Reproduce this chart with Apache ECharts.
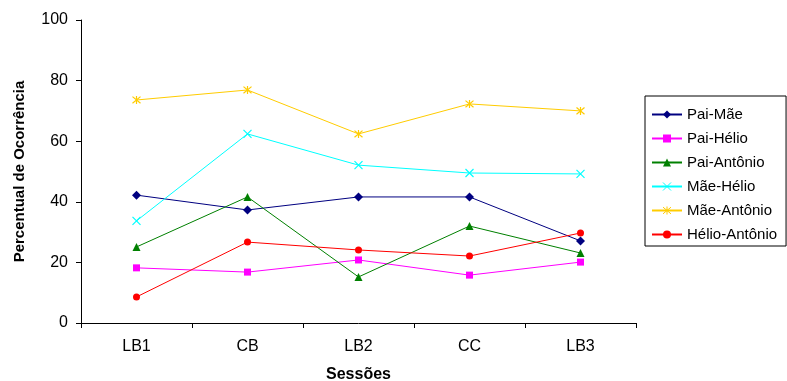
<!DOCTYPE html>
<html>
<head>
<meta charset="utf-8">
<script src="https://cdn.jsdelivr.net/npm/echarts@6/dist/echarts.min.js"></script>
<style>
html,body{margin:0;padding:0;background:#fff;}
#chart{width:787px;height:381px;}
</style>
</head>
<body>
<div id="chart"></div>
<script>
// Sessions and occurrence percentages per pair
const sessions = ['LB1', 'CB', 'LB2', 'CC', 'LB3'];
const paiMae = [42.2, 37.3, 41.6, 41.6, 27.1];
const paiHelio = [18.2, 16.8, 20.8, 15.8, 20.1];
const paiAntonio = [25.1, 41.6, 15.2, 32.0, 23.1];
const maeHelio = [33.7, 62.4, 52.1, 49.5, 49.2];
const maeAntonio = [73.6, 76.9, 62.4, 72.3, 70.0];
const helioAntonio = [8.6, 26.7, 24.1, 22.1, 29.7];
const yTicks = [0, 20, 40, 60, 80, 100];

const FONT = 'Liberation Sans, Arial, sans-serif';
const crossPath = 'path://M0,0L10,10M10,0L0,10';
const starPath = 'path://M0,0L10,10M10,0L0,10M5,-1L5,11';

function makeSeries(name, data, color, symbol, size, stroked) {
  const s = {
    name: name,
    type: 'line',
    data: data,
    symbol: symbol,
    symbolSize: size,
    showAllSymbol: true,
    lineStyle: { color: color, width: 1 },
    itemStyle: { color: color },
    emphasis: { disabled: true },
    animation: false
  };
  if (stroked) {
    s.itemStyle = { color: color, borderColor: color, borderWidth: 1.2 };
  }
  return s;
}

const legendItems = [
  { name: 'Pai-Mãe' },
  { name: 'Pai-Hélio' },
  { name: 'Pai-Antônio' },
  { name: 'Mãe-Hélio', itemStyle: { borderColor: '#00FFFF', borderWidth: 1 } },
  { name: 'Mãe-Antônio', itemStyle: { borderColor: '#FFCC00', borderWidth: 1 } },
  { name: 'Hélio-Antônio' }
];

const chart = echarts.init(document.getElementById('chart'), null, { renderer: 'canvas' });
chart.setOption({
  backgroundColor: '#fff',
  animation: false,
  grid: { left: 81, right: 151, top: 20, bottom: 58, containLabel: false, outerBoundsMode: 'none' },
  legend: {
    orient: 'vertical',
    left: 645,
    top: 96,
    itemWidth: 30,
    itemHeight: 10,
    itemGap: 9,
    padding: [11, 9, 4, 6],
    borderColor: '#000',
    borderWidth: 1,
    textStyle: { fontFamily: FONT, fontSize: 15, color: '#000' },
    data: legendItems
  },
  xAxis: {
    type: 'category',
    data: sessions,
    boundaryGap: true,
    name: 'Sessões',
    nameLocation: 'middle',
    nameGap: 44,
    nameTextStyle: { fontFamily: FONT, fontSize: 16, fontWeight: 'bold', color: '#000' },
    axisLine: { lineStyle: { color: '#000', width: 1 } },
    axisTick: { show: true, length: 5, lineStyle: { color: '#000' } },
    axisLabel: { fontFamily: FONT, fontSize: 16, color: '#000', margin: 16 },
    splitLine: { show: false }
  },
  yAxis: {
    type: 'value',
    min: yTicks[0],
    max: yTicks[yTicks.length - 1],
    interval: 20,
    name: 'Percentual de Ocorrência',
    nameLocation: 'middle',
    nameGap: 54,
    nameRotate: 90,
    nameTextStyle: { fontFamily: FONT, fontSize: 15, fontWeight: 'bold', color: '#000' },
    axisLine: { show: true, lineStyle: { color: '#000', width: 1 } },
    axisTick: { show: true, length: 5, lineStyle: { color: '#000' } },
    axisLabel: { fontFamily: FONT, fontSize: 16, color: '#000', margin: 13 },
    splitLine: { show: false }
  },
  series: [
    makeSeries('Pai-Mãe', paiMae, '#000080', 'diamond', 9),
    makeSeries('Pai-Hélio', paiHelio, '#FF00FF', 'rect', 7),
    makeSeries('Pai-Antônio', paiAntonio, '#008000', 'triangle', 8),
    makeSeries('Mãe-Hélio', maeHelio, '#00FFFF', crossPath, 8, true),
    makeSeries('Mãe-Antônio', maeAntonio, '#FFCC00', starPath, 8, true),
    makeSeries('Hélio-Antônio', helioAntonio, '#FF0000', 'circle', 7)
  ]
});
</script>
</body>
</html>
